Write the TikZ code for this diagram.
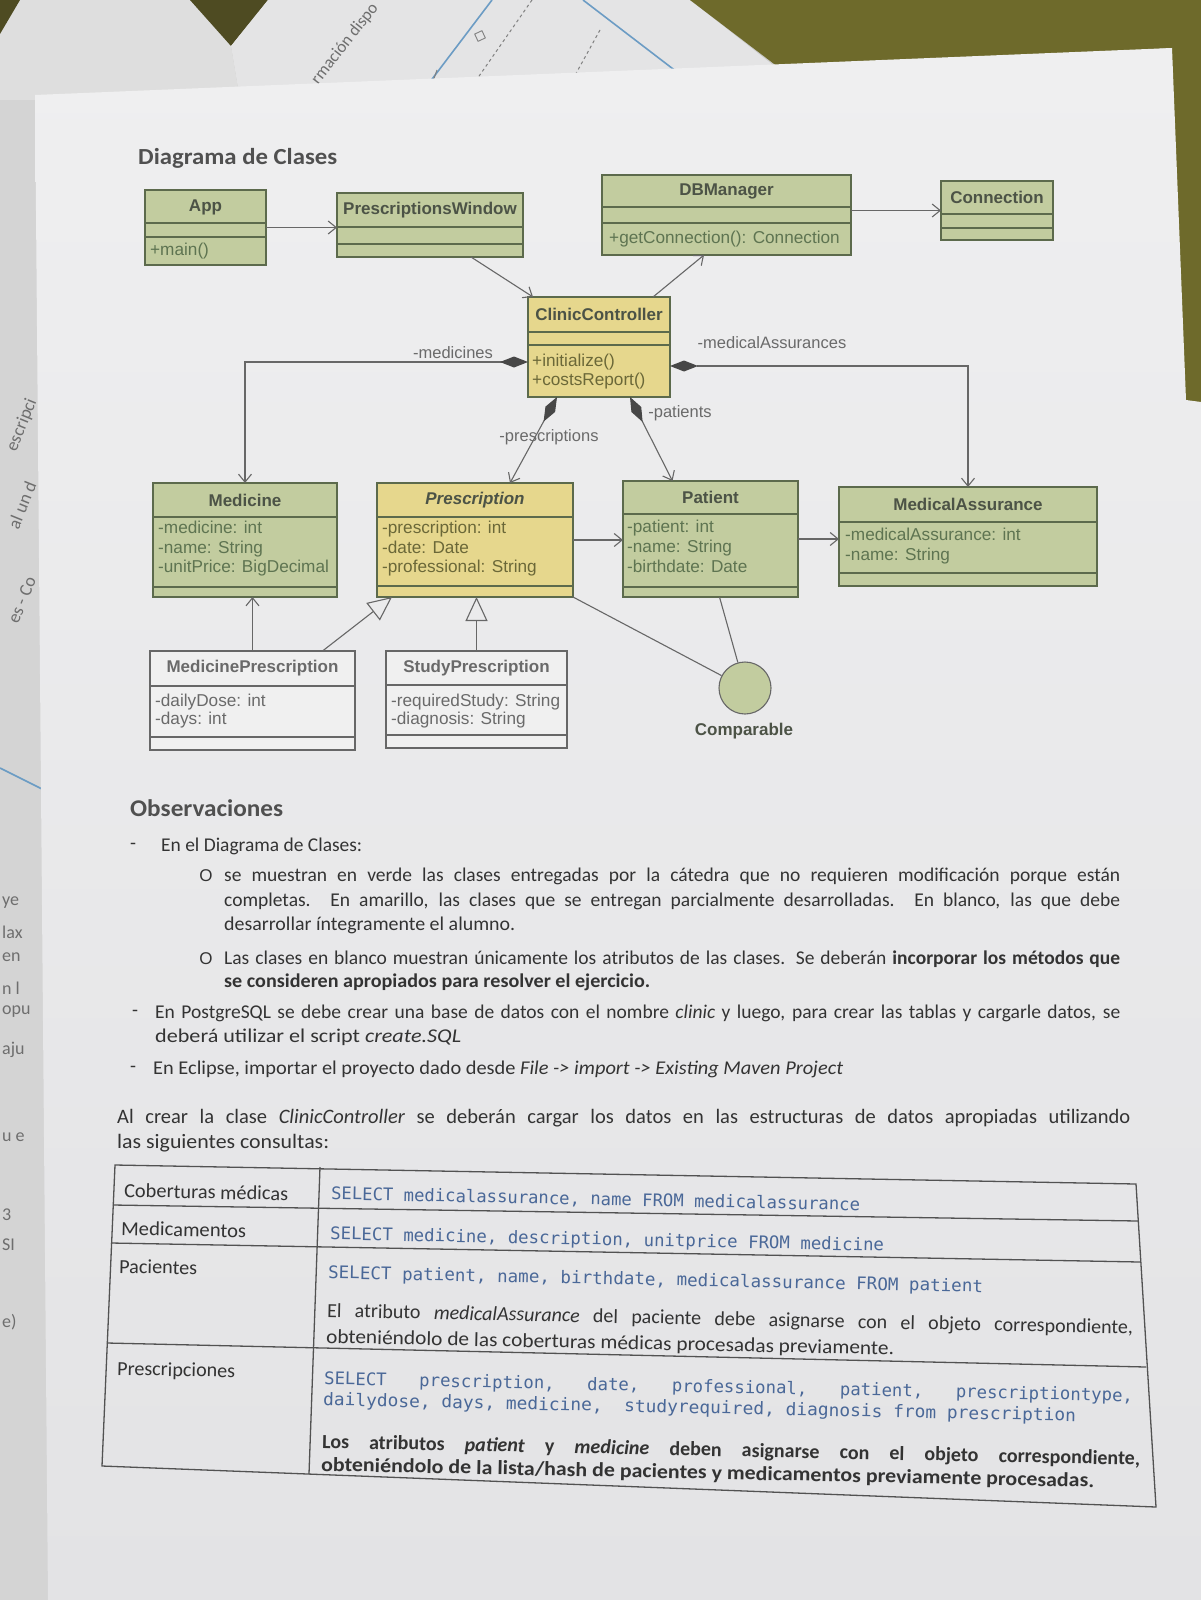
\documentclass[tikz,border=0pt]{standalone}
\usepackage{fontspec}
\usepackage{graphicx}
\setmainfont{Carlito}
\newfontfamily\umlfont{Liberation Sans}
\newfontfamily\codefont{DejaVu Sans Mono}
\usetikzlibrary{arrows.meta,calc,fit}

% colours
\definecolor{deskgray}{HTML}{C9C9C7}
\definecolor{sheetgray}{HTML}{D4D4D4}
\definecolor{sheetlight}{HTML}{DEDEDE}
\definecolor{sheetblue}{HTML}{E4E4E5}
\definecolor{cloth}{HTML}{6E6A2B}
\definecolor{clothdark}{HTML}{4E4B22}
\definecolor{pagetop}{HTML}{EFEFF0}
\definecolor{pagebottom}{HTML}{E3E3E5}
\definecolor{pagebg}{HTML}{EBEBEC}
\definecolor{clsgreen}{HTML}{C2CC9F}
\definecolor{clsyellow}{HTML}{E6D78D}
\definecolor{clswhite}{HTML}{F0F0F0}
\definecolor{greenline}{HTML}{5C6A4C}
\definecolor{grayline}{HTML}{676767}
\definecolor{diamondgray}{HTML}{474747}
\definecolor{nametext}{HTML}{4C5346}
\definecolor{greentext}{HTML}{5E7451}
\definecolor{yellowtext}{HTML}{6B6838}
\definecolor{graytext}{HTML}{6A6A6A}
\definecolor{titletext}{HTML}{505050}
\definecolor{bodytext}{HTML}{333333}
\definecolor{codeblue}{HTML}{4A6898}
\definecolor{tableline}{HTML}{525252}
\definecolor{blueline}{HTML}{6C9CC4}
\definecolor{fragtext}{HTML}{6E6E6E}

% a justified line: spaces stretch, or the line is narrowed if it is too long
\newlength\jlw
\newcommand\jline[2]{\settowidth\jlw{#2}\ifdim\jlw>#1\relax\resizebox{#1}{\height}{#2}\else\hbox to #1{#2}\fi}
% a line set to a given width
\newcommand\fitline[2]{\resizebox{#1}{\height}{#2}}

% UML class box: name, style, x1, y1, x2, y2, first and second compartment rule
\newcommand\umlbox[8]{%
  \node[#2, fit={(#3,#4) (#5,#6)}] (#1) {};
  \draw[#2, fill=none] (#3,#7) -- (#5,#7) (#3,#8) -- (#5,#8);
}

\begin{document}
\begin{tikzpicture}[x=1pt, y=-1pt,
  greencls/.style={draw=greenline, fill=clsgreen, line width=1.1pt, inner sep=0pt, outer sep=0pt},
  yellowcls/.style={draw=greenline, fill=clsyellow, line width=1.1pt, inner sep=0pt, outer sep=0pt},
  whitecls/.style={draw=grayline, fill=clswhite, line width=1.1pt, inner sep=0pt, outer sep=0pt},
  clsname/.style={font=\umlfont\bfseries\fontsize{17}{19}\selectfont, text=nametext, inner sep=0pt},
  attr/.style={font=\umlfont\fontsize{17.2}{19}\selectfont, anchor=west, inner sep=0pt,
               text height=12pt, text depth=3.5pt},
  role/.style={font=\umlfont\fontsize{16.5}{19}\selectfont, text=graytext, inner sep=0pt},
  link/.style={draw=grayline, line width=1.1pt},
  nav/.style={link, -{Straight Barb[length=8pt,width=13pt]}},
  gen/.style={link, -{Triangle[length=24pt,width=22pt,fill=pagebg]}},
  comp/.style={link, {Diamond[length=28pt,width=11pt,color=diamondgray]}-{Straight Barb[length=8pt,width=13pt]}},
  body/.style={font=\fontsize{19.5}{24}\selectfont, text=bodytext, anchor=west, inner sep=0pt,
               text height=14pt, text depth=4pt},
  dashbullet/.style={font=\fontsize{19.5}{24}\selectfont, text=bodytext, inner sep=0pt},
  obullet/.style={font=\umlfont\fontsize{17}{18}\selectfont, text=bodytext, inner sep=0pt},
  tline/.style={draw=tableline, line width=1.3pt},
  tlabel/.style={font=\fontsize{20}{24}\selectfont, text=bodytext, anchor=west, inner sep=0pt,
                 text height=14pt, text depth=4pt, rotate=-1.2},
  tcode/.style={font=\codefont\fontsize{17.3}{20}\selectfont, text=codeblue, anchor=west, inner sep=0pt,
                text height=13pt, text depth=4pt, rotate=-1.2},
  frag/.style={font=\fontsize{18}{20}\selectfont, text=fragtext, inner sep=0pt},
]
\useasboundingbox (0,0) rectangle (1201,1600);
\clip (0,0) rectangle (1201,1600);

% ---------- desk, cloth and the sheets underneath ----------
\fill[deskgray] (0,0) rectangle (1201,1600);
\fill[sheetgray] (0,90) -- (60,90) -- (70,1600) -- (0,1600) -- cycle;
\node[frag, rotate=68] (f1) at (22,425) {escripci};
\node[frag, rotate=68] (f2) at (22,505) {al un d};
\node[frag, rotate=68] (f3) at (22,600) {es - Co};
\node[frag, anchor=west] (f4) at (2,903) {ye};
\node[frag, anchor=west] (f5) at (2,932) {lax};
\node[frag, anchor=west] (f6) at (2,957) {en};
\node[frag, anchor=west] (f7) at (2,988) {n l};
\node[frag, anchor=west] (f8) at (2,1012) {opu};
\node[frag, anchor=west] (f9) at (2,1050) {aju};
\node[frag, anchor=west] (f10) at (2,1137) {u e};
\node[frag, anchor=west] (f11) at (2,1215) {3};
\node[frag, anchor=west] (f12) at (2,1245) {SI};
\node[frag, anchor=west] (f13) at (2,1322) {e)};
\draw[blueline, line width=1.6pt] (0,768) -- (48,792);

\fill[sheetlight] (0,0) -- (190,0) -- (231,46) -- (240,100) -- (0,100) -- cycle;
\fill[clothdark] (0,0) -- (20,0) -- (0,34) -- cycle;
\fill[clothdark] (190,0) -- (268,0) -- (231,46) -- cycle;
\fill[sheetblue] (268,0) -- (690,0) -- (782,72) -- (240,100) -- (231,46) -- cycle;
\fill[cloth] (690,0) -- (1201,0) -- (1201,430) -- (1160,430) -- (1172,48) -- (782,70) -- cycle;
\draw[blueline, line width=1.6pt] (492,0) -- (420,95);
\draw[blueline, line width=1.6pt] (583,0) -- (677,72);
\draw[gray, line width=1pt, dashed] (532,0) -- (468,92);
\draw[gray, line width=1pt, dashed] (600,30) -- (568,88);
\draw[gray, line width=1pt] (437,70) -- (432,84);
\node[draw=gray, line width=0.9pt, rotate=25, minimum size=8pt, inner sep=0pt] (sq) at (480,36) {};
\node[font=\fontsize{17}{20}\selectfont, text=fragtext, rotate=52, inner sep=0pt] (fold) at (345,44) {rmación dispo};

% ---------- the page ----------
\shade[top color=pagetop, bottom color=pagebottom]
  (35,95) -- (1172,48) -- (1186,400) -- (1201,402) -- (1201,1600) -- (48,1600) -- cycle;

% ---------- class diagram ----------
\node[font=\bfseries\fontsize{23}{26}\selectfont, text=titletext, anchor=west, inner sep=0pt] (title)
  at (138,158) {\fitline{199pt}{Diagrama de Clases}};

\umlbox{app}{greencls}{145}{190}{266}{265}{223}{237}
\node[clsname] (appN) at (205.5,207) {App};
\node[attr, text=greentext] (appM) at (150,251) {+main()};

\umlbox{pw}{greencls}{337}{193}{523}{257}{227}{244}
\node[clsname] (pwN) at (430,210) {PrescriptionsWindow};

\umlbox{db}{greencls}{602}{175}{851}{255}{207}{223}
\node[clsname] (dbN) at (726.5,191) {DBManager};
\node[attr, text=greentext] (dbM) at (609,239) {+getConnection(): Connection};

\umlbox{con}{greencls}{941}{181}{1053}{240}{214}{228}
\node[clsname] (conN) at (997,197.5) {Connection};

\umlbox{cc}{yellowcls}{528}{297}{670}{397}{332}{345}
\node[clsname] (ccN) at (599,314.5) {ClinicController};
\node[attr, text=yellowtext] (ccM1) at (532,362) {+initialize()};
\node[attr, text=yellowtext] (ccM2) at (532,381) {+costsReport()};

\umlbox{med}{greencls}{153}{483}{337}{597}{517}{587}
\node[clsname] (medN) at (245,500) {Medicine};
\node[attr, text=greentext] (medA1) at (158,529) {-medicine: int};
\node[attr, text=greentext] (medA2) at (158,549) {-name: String};
\node[attr, text=greentext] (medA3) at (158,568) {-unitPrice: BigDecimal};

\umlbox{pre}{yellowcls}{377}{483}{573}{597}{517}{586}
\node[clsname, font=\umlfont\bfseries\itshape\fontsize{17}{19}\selectfont] (preN) at (475,500) {Prescription};
\node[attr, text=yellowtext] (preA1) at (382,529) {-prescription: int};
\node[attr, text=yellowtext] (preA2) at (382,549) {-date: Date};
\node[attr, text=yellowtext] (preA3) at (382,568) {-professional: String};

\umlbox{pat}{greencls}{623}{481}{798}{597}{514}{587}
\node[clsname] (patN) at (710.5,497) {Patient};
\node[attr, text=greentext] (patA1) at (627,528) {-patient: int};
\node[attr, text=greentext] (patA2) at (627,548) {-name: String};
\node[attr, text=greentext] (patA3) at (627,568) {-birthdate: Date};

\umlbox{ma}{greencls}{839}{487}{1097}{586}{522}{573}
\node[clsname] (maN) at (968,504) {MedicalAssurance};
\node[attr, text=greentext] (maA1) at (845,536) {-medicalAssurance: int};
\node[attr, text=greentext] (maA2) at (845,556) {-name: String};

\umlbox{mp}{whitecls}{150}{651}{355}{750}{686}{737}
\node[clsname, text=graytext] (mpN) at (252.5,668) {MedicinePrescription};
\node[attr, text=graytext] (mpA1) at (155,702) {-dailyDose: int};
\node[attr, text=graytext] (mpA2) at (155,720) {-days: int};

\umlbox{sp}{whitecls}{386}{651}{567}{748}{685}{735}
\node[clsname, text=graytext] (spN) at (476.5,668) {StudyPrescription};
\node[attr, text=graytext] (spA1) at (391,702) {-requiredStudy: String};
\node[attr, text=graytext] (spA2) at (391,720) {-diagnosis: String};

\node[circle, draw=grayline, fill=clsgreen, line width=1.1pt, minimum size=52pt, inner sep=0pt] (cmp) at (745,688) {};
\node[clsname] (cmpN) at (744,731) {Comparable};

% connectors
\draw[nav] (app.east) -- (app.east -| pw.west);
\draw[nav] ($(pw.south)+(41,0)$) -- ($(cc.north west)+(5,0)$);
\draw[nav] ($(cc.north east)+(-17,0)$) -- ($(db.south west)+(102,0)$);
\draw[nav] (db.east |- con.west) -- (con.west);
\draw[comp] ($(cc.west)+(0,15)$) -| (med.north);
\draw[comp] ($(cc.east)+(0,19)$) -| (ma.north);
\draw[comp] ($(cc.south)+(-42,0)$) -- ($(pre.north)+(35,0)$);
\draw[comp] ($(cc.south)+(31,0)$) -- ($(pat.north)+(-38,0)$);
\draw[nav] (pre.east) -- (pre.east -| pat.west);
\draw[nav] (pat.east) -- (pat.east -| ma.west);
\draw[nav] (mp.north) -- (mp.north |- med.south);
\draw[gen] ($(mp.north)+(70,0)$) -- ($(pre.south west)+(15,0)$);
\draw[gen] (sp.north) -- (sp.north |- pre.south);
\draw[link] (pre.south east) -- (cmp);
\draw[link] ($(pat.south)+(9,0)$) -- (cmp);

% role names
\node[role] (rMed) at (453,353) {-medicines};
\node[role] (rMa) at (772,343) {-medicalAssurances};
\node[role] (rPre) at (549,437) {-prescriptions};
\node[role] (rPat) at (680,413) {-patients};

% ---------- observations ----------
\node[body, font=\bfseries\fontsize{24}{28}\selectfont, text=titletext] (obs) at (130,811) {\fitline{153pt}{Observaciones}};

\node[dashbullet] (b1) at (133,846) {-};
\node[body] (b1t) at (161,846) {\fitline{201pt}{En el Diagrama de Clases:}};

\node[obullet] (o1) at (206,876) {O};
\node[body] (p1a) at (224,876) {\jline{896pt}{se muestran en verde las clases entregadas por la cátedra que no requieren modificación porque están}};
\node[body] (p1b) at (224,901) {\jline{896pt}{completas. En amarillo, las clases que se entregan parcialmente desarrolladas. En blanco, las que debe}};
\node[body] (p1c) at (224,925) {\fitline{291pt}{desarrollar íntegramente el alumno.}};

\node[obullet] (o2) at (206,959) {O};
\node[body] (p2a) at (224,959) {\jline{896pt}{Las clases en blanco muestran únicamente los atributos de las clases. Se deberán \textbf{incorporar los métodos que}}};
\node[body] (p2b) at (224,982) {\fitline{426pt}{\textbf{se consideren apropiados para resolver el ejercicio.}}};

\node[dashbullet] (b2) at (135,1013) {-};
\node[body] (p3a) at (155,1013) {\jline{965pt}{En PostgreSQL se debe crear una base de datos con el nombre \textit{clinic} y luego, para crear las tablas y cargarle datos, se}};
\node[body] (p3b) at (155,1037) {\fitline{306pt}{deberá utilizar el script \textit{create.SQL}}};

\node[dashbullet] (b3) at (133,1069) {-};
\node[body] (p4) at (153,1069) {\fitline{690pt}{En Eclipse, importar el proyecto dado desde \textit{File -> import -> Existing Maven Project}}};

\node[body, font=\fontsize{20.5}{25}\selectfont] (p5a) at (117,1118) {\jline{1013pt}{Al crear la clase \textit{ClinicController} se deberán cargar los datos en las estructuras de datos apropiadas utilizando}};
\node[body, font=\fontsize{20.5}{25}\selectfont] (p5b) at (117,1143) {\fitline{212pt}{las siguientes consultas:}};

% ---------- query table ----------
\draw[tline] (115,1165) -- (1136,1184) -- (1156,1507) -- (102,1466) -- cycle;
\draw[tline] (113,1205) -- (1138,1221);
\draw[tline] (111,1243) -- (1140,1262);
\draw[tline] (107,1343) -- (1146,1367);
\draw[tline] (320,1167) -- (309,1474);

\node[tlabel] (l1) at (124,1192) {\fitline{164pt}{Coberturas médicas}};
\node[tlabel] (l2) at (121,1230) {\fitline{125pt}{Medicamentos}};
\node[tlabel] (l3) at (119,1268) {\fitline{78pt}{Pacientes}};
\node[tlabel] (l4) at (117,1370) {\fitline{118pt}{Prescripciones}};

\node[tcode] (q1) at (331,1195) {\fitline{529pt}{SELECT medicalassurance, name FROM medicalassurance}};
\node[tcode] (q2) at (330,1235) {\fitline{554pt}{SELECT medicine, description, unitprice FROM medicine}};
\node[tcode] (q3) at (328,1274) {\fitline{655pt}{SELECT patient, name, birthdate, medicalassurance FROM patient}};
\node[tlabel] (n3a) at (327,1312) {\jline{806pt}{El atributo \textit{medicalAssurance} del paciente debe asignarse con el objeto correspondiente,}};
\node[tlabel] (n3b) at (326,1338) {\fitline{568pt}{obteniéndolo de las coberturas médicas procesadas previamente.}};

\node[tcode] (q4a) at (324,1380) {\hbox to 809pt{SELECT\hfill prescription,\hfill date,\hfill professional,\hfill patient,\hfill prescriptiontype,}};
\node[tcode] (q4b) at (323,1401) {\fitline{753pt}{dailydose, days, medicine,\ \ studyrequired, diagnosis from prescription}};
\node[tlabel, font=\bfseries\fontsize{20}{24}\selectfont] (n4a) at (322,1443) {\jline{818pt}{Los atributos \textit{patient} y \textit{medicine} deben asignarse con el objeto correspondiente,}};
\node[tlabel, font=\bfseries\fontsize{20}{24}\selectfont] (n4b) at (321,1466) {\fitline{773pt}{obteniéndolo de la lista/hash de pacientes y medicamentos previamente procesadas.}};

\end{tikzpicture}
\end{document}
